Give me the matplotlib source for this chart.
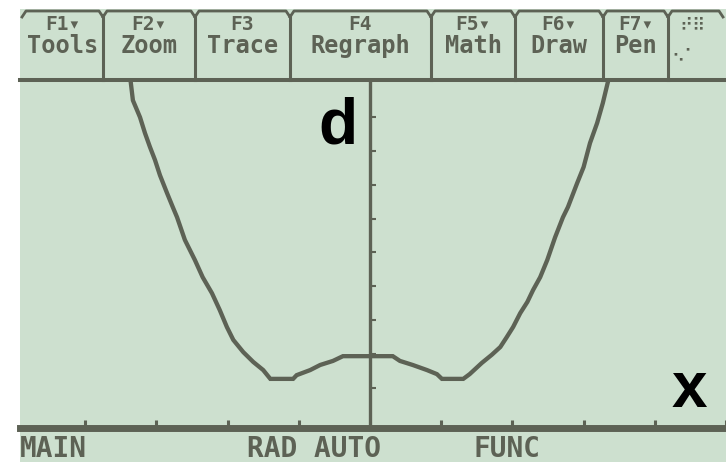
"""TI-89 style graph screen: distance d against x
"""
import matplotlib
matplotlib.use('Agg')
import matplotlib.pyplot as plt
from matplotlib.patches import Rectangle

# curve (x, d)
curve_x = [-3.36, -3.33, -3.23, -3.16, -3.09, -3.02, -2.95, -2.85, -2.77, -2.71,
           -2.60, -2.46, -2.35, -2.22, -2.11, -2.01, -1.92, -1.78, -1.64, -1.50,
           -1.40, -1.08, -1.03, -0.84, -0.70, -0.52, -0.38, -0.04, 0.32, 0.42,
           0.60, 0.80, 0.94, 1.01, 1.31, 1.40, 1.57, 1.71, 1.83, 1.92,
           2.01, 2.11, 2.21, 2.29, 2.39, 2.49, 2.60, 2.71, 2.78, 2.91,
           3.00, 3.09, 3.19, 3.27, 3.34]
curve_d = [10.02, 9.49, 8.99, 8.52, 8.11, 7.73, 7.28, 6.75, 6.34, 6.04,
           5.37, 4.78, 4.27, 3.80, 3.30, 2.80, 2.42, 2.06, 1.77, 1.53,
           1.27, 1.27, 1.38, 1.53, 1.68, 1.80, 1.94, 1.94, 1.94, 1.80,
           1.68, 1.53, 1.41, 1.27, 1.27, 1.41, 1.74, 1.98, 2.21, 2.50,
           2.80, 3.21, 3.54, 3.89, 4.27, 4.78, 5.45, 6.04, 6.34, 7.05,
           7.52, 8.23, 8.82, 9.41, 10.02]

x_ticks = [-4, -3, -2, -1, 1, 2, 3, 4, 5]
d_ticks = [1, 2, 3, 4, 5, 6, 7, 8, 9]

tab_top = ['F1\u25be', 'F2\u25be', 'F3', 'F4', 'F5\u25be', 'F6\u25be', 'F7\u25be']
tab_bottom = ['Tools', 'Zoom', 'Trace', 'Regraph', 'Math', 'Draw', 'Pen']
tab_edges = [22, 103, 195, 290, 431, 515, 603, 668, 723]
status = ['MAIN', 'RAD AUTO', 'FUNC']
status_x = [20, 247, 474]

lcd = '#cde0cf'
ink = '#5d6255'

W, H = 726, 462
fig = plt.figure(figsize=(W / 100, H / 100), dpi=100)
fig.patch.set_facecolor('white')
fig.patches.append(Rectangle((20 / W, 0), 1 - 20 / W, (H - 9) / H,
                             transform=fig.transFigure, facecolor=lcd,
                             edgecolor='none', zorder=0))

# graph window
ax = fig.add_axes([14 / W, (H - 427.5) / H, 712 / W, 347.5 / H])
ax.set_zorder(2)
ax.set_facecolor('none')
ax.plot(curve_x, curve_d, color=ink, lw=3.1, solid_joinstyle='miter')
ax.set_xlim(-5, 5)
ax.set_ylim(-0.165, 10.09)
for s in ['top', 'right']:
    ax.spines[s].set_visible(False)
ax.spines['bottom'].set_linewidth(5.0)
ax.spines['bottom'].set_color(ink)
ax.spines['bottom'].set_bounds(-4.92, 5)
ax.spines['left'].set_position(('data', 0))
ax.spines['left'].set_linewidth(2.4)
ax.spines['left'].set_color(ink)
ax.set_xticks(x_ticks)
ax.set_yticks(d_ticks)
ax.tick_params(axis='x', direction='in', length=6.1, width=2.2, color=ink,
               labelbottom=False)
ax.tick_params(axis='y', direction='in', length=4.3, width=1.5, color=ink,
               labelleft=False)

# screen decorations in pixel coordinates
ov = fig.add_axes([0, 0, 1, 1])
ov.set_zorder(3)
ov.set_xlim(0, W)
ov.set_ylim(H, 0)
ov.axis('off')
ov.patch.set_visible(False)

for a, b in zip(tab_edges[:-1], tab_edges[1:]):
    ov.plot([a, a + 4, b - 4, b], [17, 11, 11, 17], color=ink, lw=2.0)
for e in tab_edges[1:-1]:
    ov.plot([e, e], [15, 80], color=ink, lw=2.2)
ov.plot([20, W], [80, 80], color=ink, lw=2.9)

mono = dict(family='DejaVu Sans Mono', weight='bold', color=ink)
for i, (t1, t2) in enumerate(zip(tab_top, tab_bottom)):
    cx = (tab_edges[i] + tab_edges[i + 1]) / 2
    ov.text(cx, 25, t1, ha='center', va='center', fontsize=14, **mono)
    ov.text(cx, 46, t2, ha='center', va='center', fontsize=17, **mono)
ov.text(692, 25, '\u281e\u283f', ha='center', va='center', fontsize=13,
        color=ink, family='DejaVu Sans')
ov.text(684, 56, '\u2822\u2801', ha='center', va='center', fontsize=13,
        color=ink, family='DejaVu Sans')

for label, x0 in zip(status, status_x):
    ov.text(x0, 449, label, ha='left', va='center', fontsize=20, **mono)

big = dict(family='Liberation Sans', weight='bold', color='black', fontsize=46)
ov.text(318, 143, 'd', ha='left', va='baseline', **big)
ov.text(672, 407, 'x', ha='left', va='baseline', **big)

plt.savefig('out.png', dpi=100)
